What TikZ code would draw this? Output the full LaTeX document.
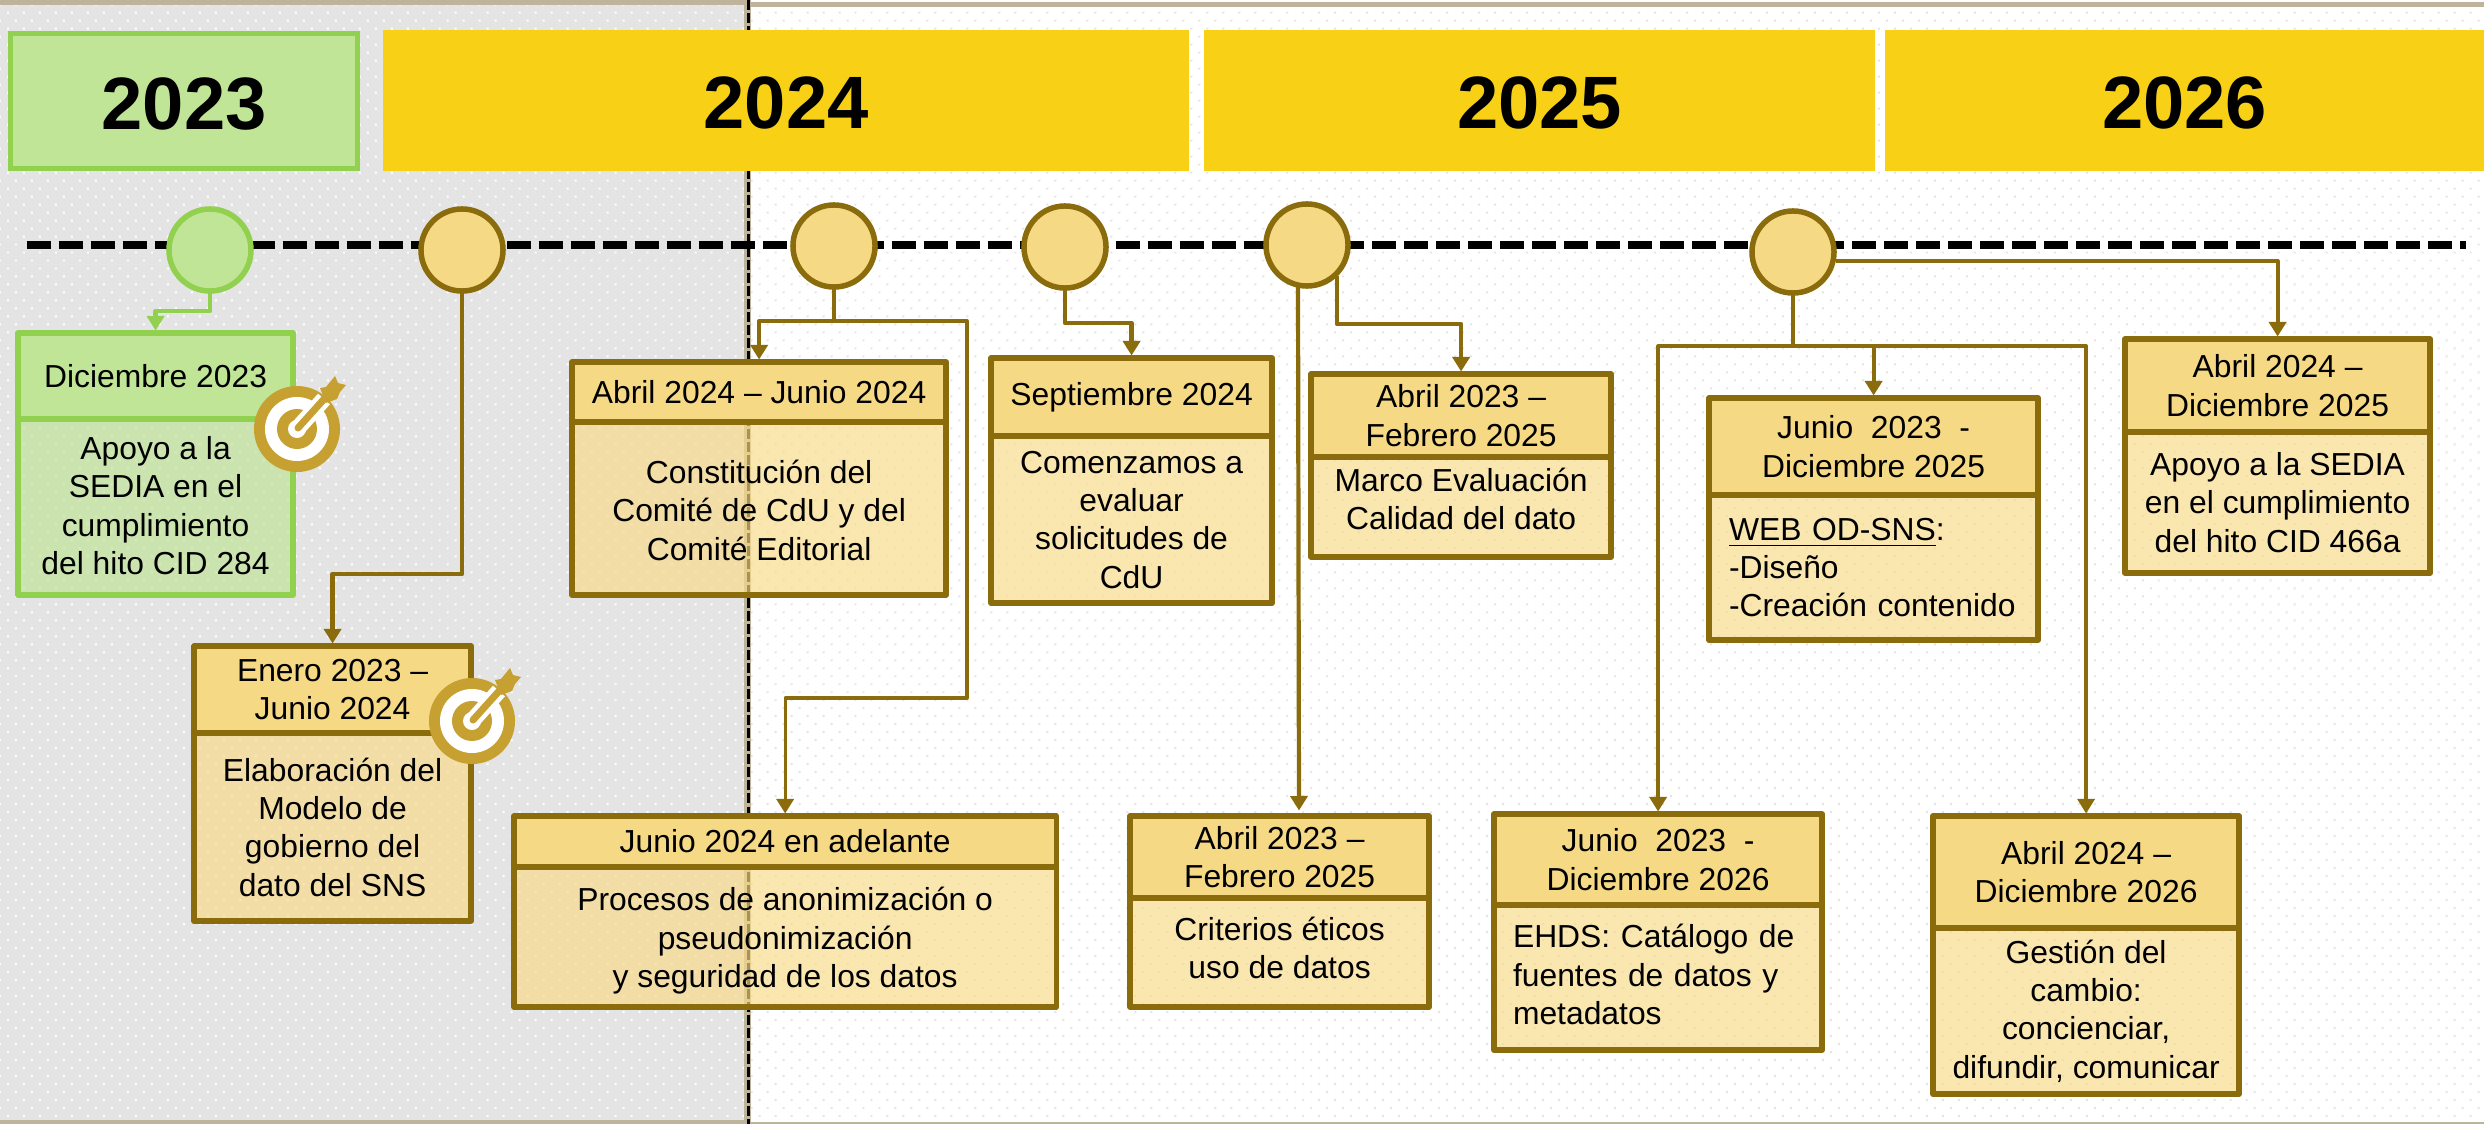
\documentclass[tikz,border=0pt]{standalone}
\usepackage{fontspec}
\setmainfont{Liberation Sans}
\usetikzlibrary{positioning}
\usetikzlibrary{arrows.meta}
\usetikzlibrary{patterns.meta}
\definecolor{oliveLine}{HTML}{8B6C0C}
\definecolor{headFill}{HTML}{F6D985}
\definecolor{bodyFill}{HTML}{F9DB89}
\definecolor{yearFill}{HTML}{F8D117}
\definecolor{greenLine}{HTML}{92D050}
\definecolor{greenFill}{HTML}{C0E596}
\definecolor{bandTan}{HTML}{BDB49B}
\definecolor{areaGray}{HTML}{E4E4E4}
\definecolor{targetGold}{HTML}{C6A030}
\tikzset{%
	% Specifications for style of nodes:
	base/.style = {rectangle, draw=oliveLine, line width=.055cm, line join=round,
		inner sep=0pt, outer sep=0pt, text=black, align=center,
		font=\fontsize{9.05}{10.9}\selectfont},
	boxHead/.style = {base, anchor=north west, fill=headFill},
	boxBody/.style = {base, fill=bodyFill, fill opacity=.67, text opacity=1},
	greenHead/.style = {boxHead, draw=greenLine, fill=greenFill},
	greenBody/.style = {boxBody, draw=greenLine, fill=greenFill},
	yearBar/.style = {rectangle, anchor=north west, inner sep=0pt, outer sep=0pt,
		fill=yearFill, minimum height=1.41cm, text height=16pt, text depth=0pt,
		font=\fontsize{21.1}{25}\selectfont\bfseries},
	milestone/.style = {circle, draw=oliveLine, fill=headFill, line width=.055cm,
		inner sep=0pt, outer sep=0pt, minimum size=.82cm},
	% Connectors
	link/.style = {draw=oliveLine, line width=.042cm, line join=round},
	thinLink/.style = {link, line width=.033cm},
	tip/.style = {-{Triangle[length=.145cm, width=.17cm]}, shorten >=.025cm},
	targetIcon/.pic = {
		\fill[targetGold] (0,0) circle[radius=.43cm];
		\fill[white] (0,0) circle[radius=.32cm];
		\fill[targetGold] (0,0) circle[radius=.2cm];
		\fill[white] (0,0) circle[radius=.09cm];
		\draw[white, line width=.16cm] (0,0) -- (27,-30);
		\draw[targetGold, line width=.07cm, line cap=round] (1,-1) -- (28,-31);
		\fill[targetGold] (23,-41) -- (29,-42) -- (38,-53) -- (41,-46) -- (49,-44) -- (43,-37) -- (40,-30) -- (29,-26) -- cycle;
	}
}
\begin{document}
\begin{tikzpicture}[x=.01cm, y=-.01cm]
		\useasboundingbox (0,0) rectangle (2484,1124);
		% Background areas
		\fill[white] (0,0) rectangle (2484,1124);
		\fill[areaGray] (0,0) rectangle (747,1124);
		\fill[pattern={Dots[distance=.113cm, angle=45, radius=.014cm]}, pattern color=white] (0,0) rectangle (744,1124);
		\fill[pattern={Dots[distance=.113cm, angle=45, radius=.014cm]}, pattern color=areaGray] (751,7) rectangle (2484,1122);
		\fill[bandTan] (744,0) rectangle (751,1124);
		\draw[black, line width=.03cm, dash pattern=on .1cm off .03cm] (748,0) -- (748,1124);
		\fill[bandTan] (0,0) rectangle (744,5);
		\fill[bandTan] (751,2) rectangle (2484,7);
		\fill[bandTan] (0,1120) rectangle (744,1124);
		\fill[bandTan] (751,1122) rectangle (2484,1124);
		% Years
		\node (year23) [yearBar, draw=greenLine, fill=greenFill, line width=.055cm, minimum width=3.47cm, minimum height=1.35cm] at (10.5,33.5) {2023};
		\node (year24) [yearBar, minimum width=8.06cm] at (383,30) {2024};
		\node (year25) [yearBar, minimum width=6.71cm] at (1204,30) {2025};
		\node (year26) [yearBar, minimum width=5.99cm] at (1885,30) {2026};
		% Time line
		\coordinate (lineStart) at (27,245);
		\coordinate (lineEnd) at (2466,245);
		\draw[black, line width=.08cm, dash pattern=on .24cm off .08cm] (lineStart) -- (lineEnd);
		\node (mile1) [milestone, draw=greenLine, fill=greenFill] at (210,250) {};
		\node (mile2) [milestone] at (462,250) {};
		\node (mile3) [milestone] at (834,246) {};
		\node (mile4) [milestone] at (1065,247) {};
		\node (mile5) [milestone] at (1307,245) {};
		\node (mile6) [milestone] at (1793,252) {};
		% Boxes
		\node (hdrApoyo) [greenHead, minimum width=2.75cm, minimum height=.86cm] at (18,333) {Diciembre 2023};
		\node (txtApoyo) [greenBody, below=0pt of hdrApoyo, minimum width=2.75cm, minimum height=1.76cm] {Apoyo a la\\SEDIA en el\\cumplimiento\\del hito CID 284\\[-10pt]\mbox{}};
		\node (hdrModelo) [boxHead, minimum width=2.77cm, minimum height=.87cm] at (194,646) {Enero 2023 --\\Junio 2024};
		\node (txtModelo) [boxBody, below=0pt of hdrModelo, minimum width=2.77cm, minimum height=1.88cm] {Elaboración del\\Modelo de\\gobierno del\\dato del SNS};
		\node (hdrComite) [boxHead, minimum width=3.74cm, minimum height=.6cm] at (572,362) {Abril 2024 -- Junio 2024};
		\node (txtComite) [boxBody, below=0pt of hdrComite, minimum width=3.74cm, minimum height=1.73cm] {\rule{0pt}{7.6pt}Constitución del\\Comité de CdU y del\\Comité Editorial};
		\node (hdrSolic) [boxHead, minimum width=2.81cm, minimum height=.78cm] at (991,358) {Septiembre 2024};
		\node (txtSolic) [boxBody, below=0pt of hdrSolic, minimum width=2.81cm, minimum height=1.67cm] {Comenzamos a\\evaluar\\solicitudes de\\CdU};
		\node (hdrMarco) [boxHead, minimum width=3cm, minimum height=.83cm] at (1311,374) {Abril 2023 --\\Febrero 2025};
		\node (txtMarco) [boxBody, below=0pt of hdrMarco, minimum width=3cm, minimum height=1cm] {Marco Evaluación\\Calidad del dato\\[-6pt]\mbox{}};
		\node (hdrAnon) [boxHead, minimum width=5.42cm, minimum height=.51cm] at (514,816) {Junio 2024 en adelante};
		\node (txtAnon) [boxBody, below=0pt of hdrAnon, minimum width=5.42cm, minimum height=1.4cm] {\rule{0pt}{8.8pt}Procesos de anonimización o\\pseudonimización\\y seguridad de los datos};
		\node (hdrEtica) [boxHead, minimum width=2.99cm, minimum height=.82cm] at (1130,816) {Abril 2023 --\\Febrero 2025};
		\node (txtEtica) [boxBody, below=0pt of hdrEtica, minimum width=2.99cm, minimum height=1.09cm] {Criterios éticos\\uso de datos\\[-8.2pt]\mbox{}};
		\node (hdrEhds) [boxHead, minimum width=3.28cm, minimum height=.91cm] at (1494,814) {Junio\ \ 2023\ \ -\\Diciembre 2026};
		\node (txtEhds) [boxBody, below=0pt of hdrEhds, minimum width=3.28cm, minimum height=1.45cm, align=left, text width=2.9cm] {EHDS: Catálogo de\\fuentes de datos y\\metadatos\\[-9.1pt]\mbox{}};
		\node (hdrCambio) [boxHead, minimum width=3.06cm, minimum height=1.12cm] at (1933,816) {Abril 2024 --\\Diciembre 2026};
		\node (txtCambio) [boxBody, below=0pt of hdrCambio, minimum width=3.06cm, minimum height=1.66cm] {Gestión del\\cambio:\\concienciar,\\difundir, comunicar};
		\node (hdrWeb) [boxHead, minimum width=3.29cm, minimum height=.97cm] at (1709,398) {Junio\ \ 2023\ \ -\\Diciembre 2025};
		\node (txtWeb) [boxBody, below=0pt of hdrWeb, minimum width=3.29cm, minimum height=1.45cm, align=left, text width=2.89cm] {\underline{WEB OD-SNS}:\\-Diseño\\-Creación contenido};
		\node (hdrHito) [boxHead, minimum width=3.05cm, minimum height=.93cm] at (2125,339) {Abril 2024 --\\Diciembre 2025};
		\node (txtHito) [boxBody, below=0pt of hdrHito, minimum width=3.05cm, minimum height=1.41cm] {Apoyo a la SEDIA\\en el cumplimiento\\del hito CID 466a};
		% Bends of the connectors
		\coordinate (bendApoyo) at (180,311);
		\coordinate (bendModelo) at (400,574);
		\coordinate (bendComite) at (800,321);
		\coordinate (sideAnon) at (967,321);
		\coordinate (backAnon) at (900,698);
		\coordinate (bendSolic) at (1100,323);
		\coordinate (startEtica) at (1298,285);
		\coordinate (endEtica) at (1299,813);
		\coordinate (startMarco) at (1337,276);
		\coordinate (bendMarco) at (1400,324);
		\coordinate (bendOut) at (1793,346);
		\coordinate (startHito) at (1836,261);
		% Connectors
		\draw[link, draw=greenLine, tip] (mile1.south) |- (bendApoyo) -| (hdrApoyo.north);
		\draw[link, tip] (mile2.south) |- (bendModelo) -| (hdrModelo.north);
		\draw[link, tip] (mile3.south) |- (bendComite) -| (hdrComite.north);
		\draw[thinLink, tip] (bendComite -| mile3.south) -- (sideAnon) |- (backAnon) -| (hdrAnon.north);
		\draw[link, tip] (mile4.south) |- (bendSolic) -| (hdrSolic.north);
		\draw[link, tip] (startEtica) -- (endEtica);
		\draw[link, tip] (startMarco) |- (bendMarco) -| (hdrMarco.north);
		\draw[link, tip] (mile6.south) |- (bendOut) -| (hdrWeb.north);
		\draw[link, tip] (startHito) -| (hdrHito.north);
		\draw[thinLink, tip] (bendOut) -| (hdrEhds.north);
		\draw[thinLink, tip] (bendOut) -| (hdrCambio.north);
		% Target icons
		\pic at (297,429) {targetIcon};
		\pic at (472,721) {targetIcon};
	\end{tikzpicture}
\end{document}
